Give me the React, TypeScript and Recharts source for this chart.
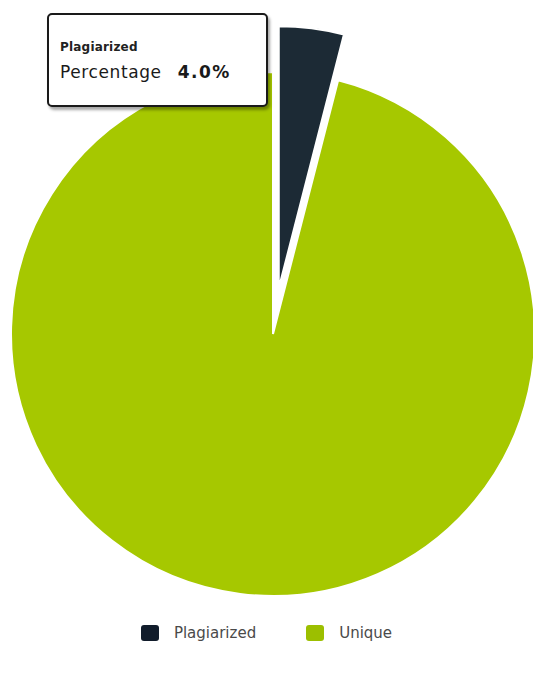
import React from 'react';
import { PieChart, Pie, Cell, Legend } from 'recharts';

// Dados do gráfico
const categories = ['Plagiarized', 'Unique'];
const percentages = [4.0, 96.0];
const colors = ['#1c2a35', '#a6c800'];
const legendColors = ['#111c2b', '#9cbf00'];

const data = categories.map((name, i) => ({ name, value: percentages[i] }));

const WIDTH = 533;
const HEIGHT = 673;
const CX = 273;
const CY = 334;
const RADIUS = 262;
const EXPLODE = 46;

// deslocamento da fatia "Plagiarized" ao longo do ângulo médio
const total = percentages.reduce((a, b) => a + b, 0);
const midDeg = (360 * percentages[0]) / total / 2;
const offX = EXPLODE * Math.sin((midDeg * Math.PI) / 180);
const offY = -EXPLODE * Math.cos((midDeg * Math.PI) / 180);

const font = '"DejaVu Sans", Verdana, sans-serif';

const LegendContent = () => (
  <div
    style={{
      display: 'flex',
      justifyContent: 'center',
      alignItems: 'center',
      fontFamily: font,
      fontSize: 15,
      color: '#4a4a4a',
    }}
  >
    {categories.map((c, i) => (
      <div key={c} style={{ display: 'flex', alignItems: 'center', marginRight: i === 0 ? 50 : 0 }}>
        <span
          style={{
            display: 'inline-block',
            width: 18,
            height: 16,
            borderRadius: 3,
            background: legendColors[i],
            marginRight: 15,
          }}
        />
        <span>{c}</span>
      </div>
    ))}
  </div>
);

export default function App() {
  return (
    <div style={{ position: 'absolute', left: 0, top: 0, width: WIDTH, height: HEIGHT, background: '#fff' }}>
      <PieChart width={WIDTH} height={HEIGHT} margin={{ top: 0, right: 0, bottom: 0, left: 0 }}>
        <Pie
          data={data}
          dataKey="value"
          nameKey="name"
          cx={CX}
          cy={CY}
          outerRadius={RADIUS}
          startAngle={90}
          endAngle={-270}
          isAnimationActive={false}
          legendType="none"
        >
          {data.map((d, i) => (
            <Cell
              key={d.name}
              fill={i === 0 ? 'none' : colors[i]}
              stroke={i === 0 ? 'none' : '#ffffff'}
              strokeWidth={2}
            />
          ))}
        </Pie>
        <Pie
          data={data}
          dataKey="value"
          nameKey="name"
          cx={CX + offX}
          cy={CY + offY}
          outerRadius={RADIUS}
          startAngle={90}
          endAngle={-270}
          isAnimationActive={false}
          legendType="none"
        >
          {data.map((d, i) => (
            <Cell
              key={d.name}
              fill={i === 0 ? colors[i] : 'none'}
              stroke={i === 0 ? '#ffffff' : 'none'}
              strokeWidth={2}
            />
          ))}
        </Pie>
        <Legend
          content={<LegendContent />}
          verticalAlign="bottom"
          wrapperStyle={{ bottom: 31 }}
        />
      </PieChart>
      <div
        style={{
          position: 'absolute',
          left: 47,
          top: 13,
          width: 221,
          height: 94,
          boxSizing: 'border-box',
          border: '2px solid #1a1a1a',
          borderRadius: 5,
          background: '#ffffff',
          boxShadow: '2px 3px 3px rgba(0,0,0,0.35)',
          fontFamily: font,
          color: '#1a1a1a',
          padding: '25px 0 0 11px',
        }}
      >
        <div style={{ fontSize: 12, fontWeight: 600, color: '#222', letterSpacing: 0.2 }}>{categories[0]}</div>
        <div style={{ fontSize: 17, marginTop: 8, letterSpacing: 0.6 }}>
          Percentage <b style={{ marginLeft: 10, letterSpacing: 1.5 }}>{percentages[0].toFixed(1)}%</b>
        </div>
      </div>
    </div>
  );
}
